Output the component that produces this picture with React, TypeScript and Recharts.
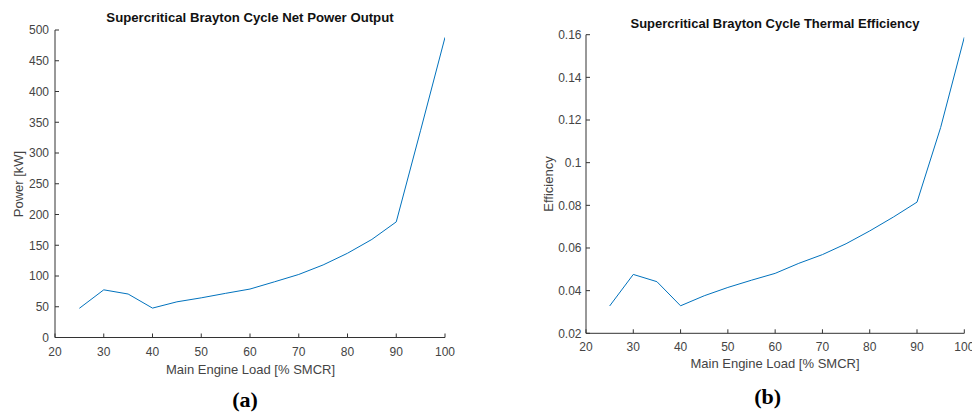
import React from 'react';
import { LineChart, Line, XAxis, YAxis } from 'recharts';

const loads = [25, 30, 35, 40, 45, 50, 55, 60, 65, 70, 75, 80, 85, 90, 95, 100];
const powerKW = [47.5, 77.5, 70.7, 47.8, 58, 64.5, 71.8, 78.8, 90.5, 102.5, 118, 137, 159.5, 188, 337, 488];
const efficiency = [0.0328, 0.0476, 0.0442, 0.0329, 0.0376, 0.0415, 0.0449, 0.0481, 0.0528, 0.0569, 0.062, 0.068, 0.0745, 0.0815, 0.1165, 0.1588];

const xTicks = [20, 30, 40, 50, 60, 70, 80, 90, 100];
const powerTicks = [0, 50, 100, 150, 200, 250, 300, 350, 400, 450, 500];
const effTicks = [0.02, 0.04, 0.06, 0.08, 0.1, 0.12, 0.14, 0.16];

const powerData = loads.map((l, i) => ({ load: l, value: powerKW[i] }));
const effData = loads.map((l, i) => ({ load: l, value: efficiency[i] }));

const AX = '#333333';
const TXT = '#444444';
const LINE = '#0072BD';
const SANS = '"Liberation Sans", Arial, Helvetica, sans-serif';
const SERIF = '"Liberation Serif", "DejaVu Serif", serif';

const tickStyle = { fontSize: 12, fill: TXT, fontFamily: SANS };

type PanelProps = {
  data: { load: number; value: number }[];
  yTicks: number[];
  yDomain: [number, number];
  fmt: (v: number) => string;
  margin: { top: number; right: number; bottom: number; left: number };
  yWidth: number;
  xMargin: number;
  yMargin: number;
};

function Panel({ data, yTicks, yDomain, fmt, margin, yWidth, xMargin, yMargin }: PanelProps) {
  return (
    <LineChart width={486} height={412} data={data} margin={margin}>
      <XAxis
        dataKey="load"
        type="number"
        domain={[20, 100]}
        ticks={xTicks}
        allowDataOverflow
        height={30}
        tickSize={-4}
        tickMargin={xMargin}
        stroke={AX}
        tick={tickStyle}
        tickLine={{ stroke: AX }}
        axisLine={{ stroke: AX }}
        interval={0}
      />
      <XAxis
        xAxisId="top"
        orientation="top"
        type="number"
        domain={[20, 100]}
        ticks={xTicks}
        allowDataOverflow
        height={0}
        tickSize={-4}
        tickFormatter={() => ''}
        stroke={AX}
        tickLine={{ stroke: AX }}
        axisLine={{ stroke: AX }}
        interval={0}
      />
      <YAxis
        type="number"
        domain={yDomain}
        ticks={yTicks}
        allowDataOverflow
        width={yWidth}
        tickSize={-4}
        tickMargin={yMargin}
        tickFormatter={fmt}
        stroke={AX}
        tick={tickStyle}
        tickLine={{ stroke: AX }}
        axisLine={{ stroke: AX }}
        interval={0}
      />
      <YAxis
        yAxisId="right"
        orientation="right"
        type="number"
        domain={yDomain}
        ticks={yTicks}
        allowDataOverflow
        width={0}
        tickSize={-4}
        tickFormatter={() => ''}
        stroke={AX}
        tickLine={{ stroke: AX }}
        axisLine={{ stroke: AX }}
        interval={0}
      />
      <Line
        type="linear"
        dataKey="value"
        stroke={LINE}
        strokeWidth={1}
        dot={false}
        activeDot={false}
        isAnimationActive={false}
      />
    </LineChart>
  );
}

const abs = (x: number, y: number, extra: React.CSSProperties = {}): React.CSSProperties => ({
  position: 'absolute',
  left: x,
  top: y,
  transform: 'translate(-50%, -50%)',
  whiteSpace: 'nowrap',
  lineHeight: 1,
  ...extra,
});

export default function App() {
  return (
    <div style={{ position: 'absolute', left: 0, top: 0, width: 972, height: 412, background: '#fff', overflow: 'hidden' }}>
      <div style={{ position: 'absolute', left: 0, top: 0 }}>
        <Panel
          data={powerData}
          yTicks={powerTicks}
          yDomain={[0, 500]}
          fmt={(v) => String(v)}
          margin={{ top: 30, right: 41, bottom: 44.5, left: 10 }}
          yWidth={45}
          xMargin={13.5}
          yMargin={10}
        />
      </div>
      <div style={{ position: 'absolute', left: 486, top: 0 }}>
        <Panel
          data={effData}
          yTicks={effTicks}
          yDomain={[0.02, 0.16]}
          fmt={(v) => String(Number(v.toFixed(2)))}
          margin={{ top: 34.7, right: 7.7, bottom: 48.7, left: 40 }}
          yWidth={60}
          xMargin={13}
          yMargin={8.5}
        />
      </div>
      {/* Left panel texts */}
      <div style={abs(250, 18.3, { fontFamily: SANS, fontWeight: 'bold', fontSize: 13.2, color: '#111' })}>
        Supercritical Brayton Cycle Net Power Output
      </div>
      <div style={abs(250.5, 369.3, { fontFamily: SANS, fontSize: 13, color: TXT })}>
        Main Engine Load [% SMCR]
      </div>
      <div style={abs(18.3, 183.7, { fontFamily: SANS, fontSize: 13, color: TXT, transform: 'translate(-50%, -50%) rotate(-90deg)' })}>
        Power [kW]
      </div>
      <div style={abs(245, 400, { fontFamily: SERIF, fontWeight: 'bold', fontSize: 22, color: '#000' })}>
        (a)
      </div>
      {/* Right panel texts */}
      <div style={abs(775, 23.3, { fontFamily: SANS, fontWeight: 'bold', fontSize: 13, color: '#111' })}>
        Supercritical Brayton Cycle Thermal Efficiency
      </div>
      <div style={abs(775, 363.3, { fontFamily: SANS, fontSize: 13, color: TXT })}>
        Main Engine Load [% SMCR]
      </div>
      <div style={abs(547.7, 184, { fontFamily: SANS, fontSize: 13, color: TXT, transform: 'translate(-50%, -50%) rotate(-90deg)' })}>
        Efficiency
      </div>
      <div style={abs(767.7, 396.7, { fontFamily: SERIF, fontWeight: 'bold', fontSize: 22, color: '#000' })}>
        (b)
      </div>
    </div>
  );
}
